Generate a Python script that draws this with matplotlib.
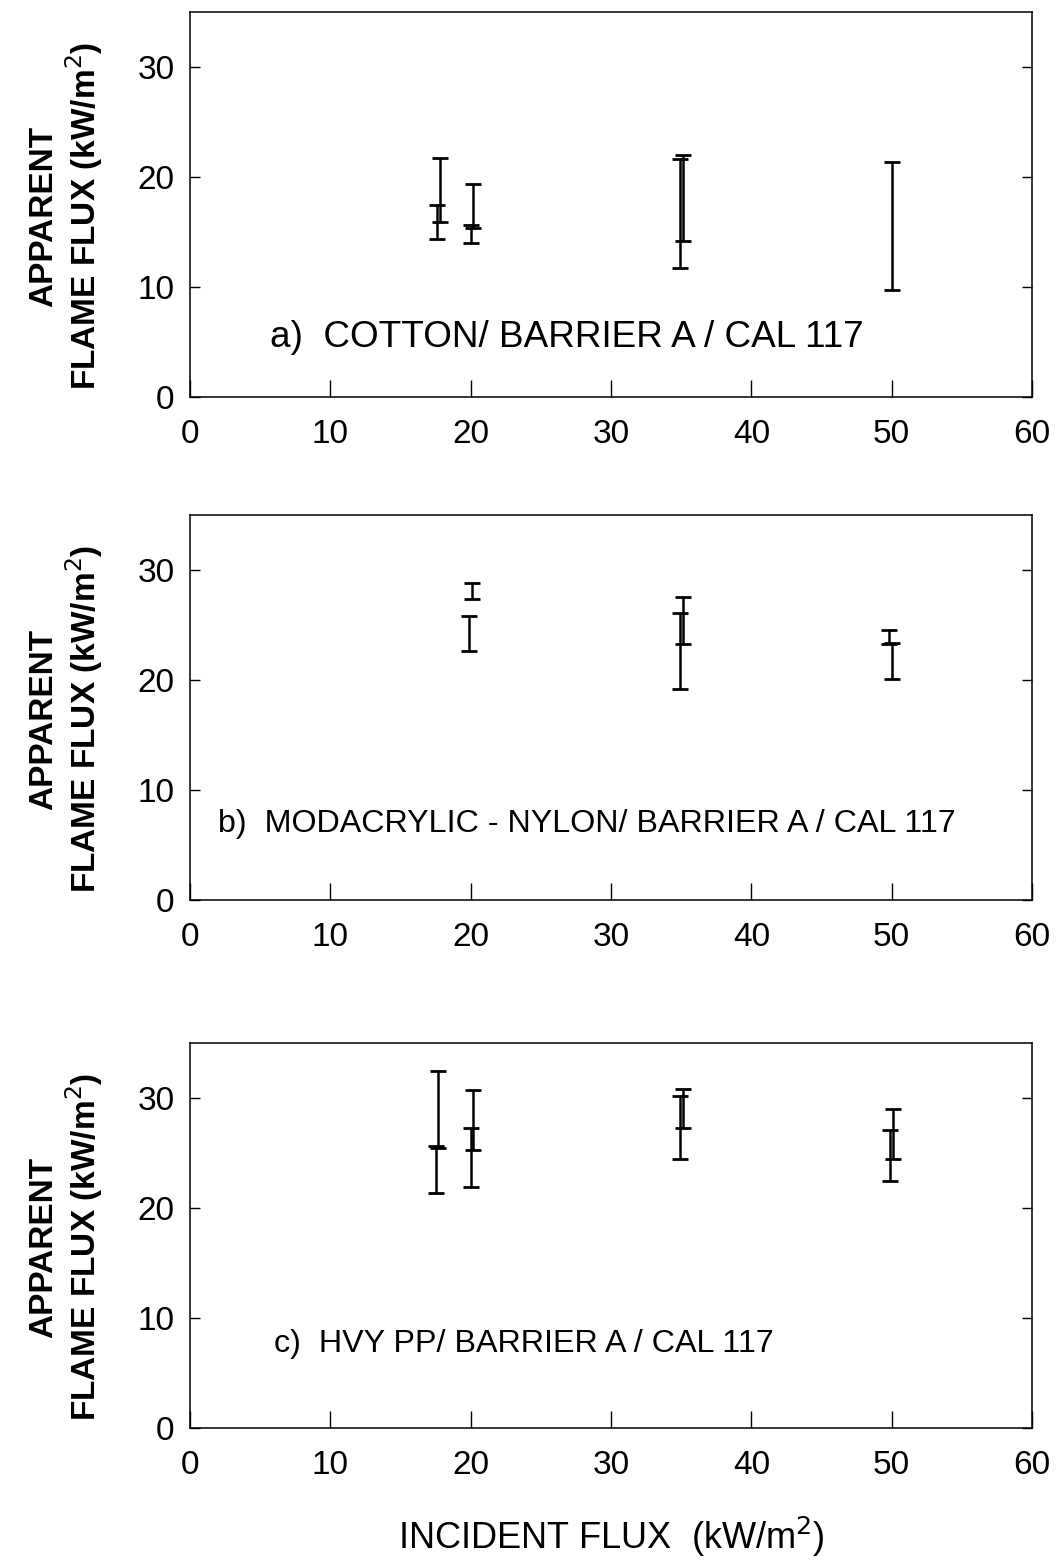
import numpy as np
import matplotlib
matplotlib.use('Agg')
import matplotlib.pyplot as plt

plt.rcParams['font.family'] = ['Liberation Sans', 'DejaVu Sans']

# bars: x position, low end, high end
a_x = [17.6, 17.8, 20.0, 20.2, 34.9, 35.1, 50.0]
a_lo = [14.4, 15.9, 14.0, 15.4, 11.7, 14.2, 9.7]
a_hi = [17.5, 21.7, 15.6, 19.4, 21.6, 22.0, 21.4]

b_x = [20.1, 19.9, 35.1, 34.9, 49.8, 50.0]
b_lo = [27.4, 22.6, 23.3, 19.2, 23.3, 20.1]
b_hi = [28.8, 25.8, 27.5, 26.1, 24.5, 23.4]

c_x = [17.7, 17.5, 20.2, 20.0, 35.1, 34.9, 50.1, 49.9]
c_lo = [25.5, 21.4, 25.3, 21.9, 27.3, 24.5, 24.5, 22.5]
c_hi = [32.5, 25.6, 30.7, 27.3, 30.8, 30.2, 29.0, 27.1]

labels = ['a)  COTTON/ BARRIER A / CAL 117',
          'b)  MODACRYLIC - NYLON/ BARRIER A / CAL 117',
          'c)  HVY PP/ BARRIER A / CAL 117']
label_pos = [(5.7, 4.55), (2.0, 6.2), (6.0, 6.95)]
label_size = [26.6, 23.2, 23.2]

x_ticks = [0, 10, 20, 30, 40, 50, 60]
y_ticks = [0, 10, 20, 30]

fig = plt.figure(figsize=(10.59, 15.6), dpi=100)
left, width, height = 0.1794, 0.7951, 0.2468
bottoms = [0.7455, 0.4231, 0.0846]

panels = [(a_x, a_lo, a_hi), (b_x, b_lo, b_hi), (c_x, c_lo, c_hi)]

for i, (xs, lo, hi) in enumerate(panels):
    ax = fig.add_axes([left, bottoms[i], width, height])
    xs = np.array(xs)
    lo = np.array(lo)
    hi = np.array(hi)
    mid = (lo + hi) / 2
    ax.errorbar(xs, mid, yerr=[mid - lo, hi - mid], fmt='none', ecolor='black',
                elinewidth=1.8, capsize=6, capthick=2.0)
    ax.set_xlim(0, 60)
    ax.set_ylim(0, 35)
    ax.set_xticks(x_ticks)
    ax.set_yticks(y_ticks)
    ax.tick_params(axis='x', direction='in', length=12, width=1, labelsize=24,
                   pad=16, top=False)
    ax.tick_params(axis='y', direction='in', length=7, width=1, labelsize=24,
                   pad=11, right=True)
    for s in ax.spines.values():
        s.set_linewidth(1.1)
    ax.text(-0.147, 0.47, 'APPARENT\nFLAME FLUX (kW/m$^2$)', transform=ax.transAxes,
            rotation=90, ha='center', va='center', multialignment='center',
            fontsize=24, fontweight='bold', linespacing=1.12)
    ax.text(label_pos[i][0], label_pos[i][1], labels[i], fontsize=label_size[i],
            va='baseline', ha='left')
    if i == 2:
        ax.set_xlabel('INCIDENT FLUX  (kW/m$^2$)', fontsize=26)
        ax.xaxis.set_label_coords(0.5, -0.225)

fig.savefig('out.png', dpi=100)
